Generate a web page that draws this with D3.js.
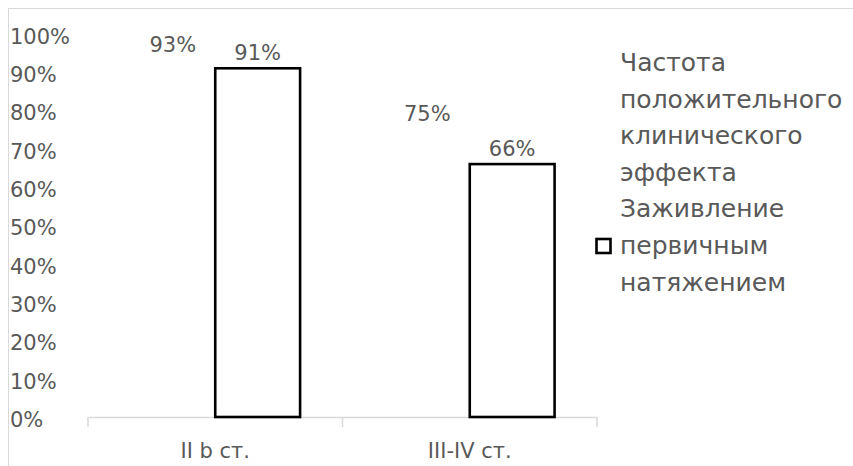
<!DOCTYPE html>
<html>
<head>
<meta charset="utf-8">
<script src="https://cdn.jsdelivr.net/npm/d3@7"></script>
<style>
  html, body { margin: 0; padding: 0; background: #fff; }
  svg { display: block; }
  text { font-family: "DejaVu Sans", sans-serif; fill: #595959; }
</style>
</head>
<body>
<svg id="chart" width="853" height="466"></svg>
<script>
// ---- data ----
const categories = ["II b ст.", "III-IV ст."];
const seriesNames = ["Частота положительного клинического эффекта", "Заживление первичным натяжением"];
const seriesEffect = [0.93, 0.75];   // invisible bars, labels only
const seriesHealing = [0.91, 0.66];  // outlined bars
const yTicks = [0, 0.1, 0.2, 0.3, 0.4, 0.5, 0.6, 0.7, 0.8, 0.9, 1.0];
const legendLines = [
  ["Частота", "положительного", "клинического", "эффекта"],
  ["Заживление", "первичным", "натяжением"]
];

const svg = d3.select("#chart");

// chart area border
svg.append("rect")
  .attr("x", 8.5).attr("y", 8.5)
  .attr("width", 900).attr("height", 500)
  .attr("fill", "none").attr("stroke", "#d9d9d9").attr("stroke-width", 1);

const x = d3.scaleBand().domain(categories).range([88, 597]).paddingInner(0).paddingOuter(0);
const bw = x.bandwidth();
const xs = d3.scaleBand().domain(seriesNames).range([bw / 6, bw * 5 / 6]);
const y = d3.scaleLinear().domain([0, 1]).range([417, 33.8]);

// y axis labels
const yAxis = svg.append("g").attr("transform", "translate(10,0)")
  .call(d3.axisRight(y).tickValues(yTicks).tickFormat(d3.format(".0%")).tickSize(0).tickPadding(0));
yAxis.select(".domain").remove();
yAxis.selectAll("text")
  .attr("dy", "0.45em")
  .style("font-family", "DejaVu Sans, sans-serif")
  .style("font-size", "21px")
  .attr("fill", "#595959");

// x axis
const xAxis = svg.append("g").attr("transform", "translate(0,417)")
  .call(d3.axisBottom(x).tickSize(0).tickPadding(26));
xAxis.select(".domain").attr("stroke", "#d9d9d9").attr("stroke-width", 1.5);
xAxis.selectAll("text")
  .style("font-family", "DejaVu Sans, sans-serif")
  .style("font-size", "21px")
  .attr("fill", "#595959");
const boundaries = categories.map(c => x(c)).concat([x(categories[categories.length - 1]) + bw]);
xAxis.selectAll(".bound").data(boundaries).enter().append("line")
  .attr("class", "bound")
  .attr("x1", d => d).attr("x2", d => d)
  .attr("y1", 0).attr("y2", 10)
  .attr("stroke", "#d9d9d9").attr("stroke-width", 1.5);

// bars: series 2 (outlined)
const rows = categories.map((c, i) => ({ c, effect: seriesEffect[i], healing: seriesHealing[i] }));

svg.append("g").selectAll("rect").data(rows).enter().append("rect")
  .attr("x", d => x(d.c) + xs(seriesNames[1]))
  .attr("y", d => y(d.healing))
  .attr("width", xs.bandwidth())
  .attr("height", d => y(0) - y(d.healing))
  .attr("fill", "#ffffff")
  .attr("stroke", "#000000")
  .attr("stroke-width", 2.6);

// data labels
const labels = svg.append("g").style("font-size", "21px").attr("text-anchor", "middle");
labels.selectAll(".l1").data(rows).enter().append("text")
  .attr("class", "l1")
  .attr("x", d => x(d.c) + xs(seriesNames[0]) + xs.bandwidth() / 2)
  .attr("y", d => y(d.effect) - 8.5)
  .text(d => d3.format(".0%")(d.effect));
labels.selectAll(".l2").data(rows).enter().append("text")
  .attr("class", "l2")
  .attr("x", d => x(d.c) + xs(seriesNames[1]) + xs.bandwidth() / 2)
  .attr("y", d => y(d.healing) - 8)
  .text(d => d3.format(".0%")(d.healing));

// legend
const legend = svg.append("g").style("font-size", "25px");
const flat = legendLines[0].concat(legendLines[1]);
legend.selectAll("text").data(flat).enter().append("text")
  .attr("x", 620)
  .attr("y", (d, i) => 71 + i * 36.6)
  .text(d => d);
// marker for series 2 on middle line of its entry
const midLine = legendLines[0].length + Math.floor(legendLines[1].length / 2);
legend.append("rect")
  .attr("x", 596.5).attr("y", 71 + midLine * 36.6 - 15)
  .attr("width", 14).attr("height", 14)
  .attr("fill", "#ffffff").attr("stroke", "#000000").attr("stroke-width", 2.6);
</script>
</body>
</html>
